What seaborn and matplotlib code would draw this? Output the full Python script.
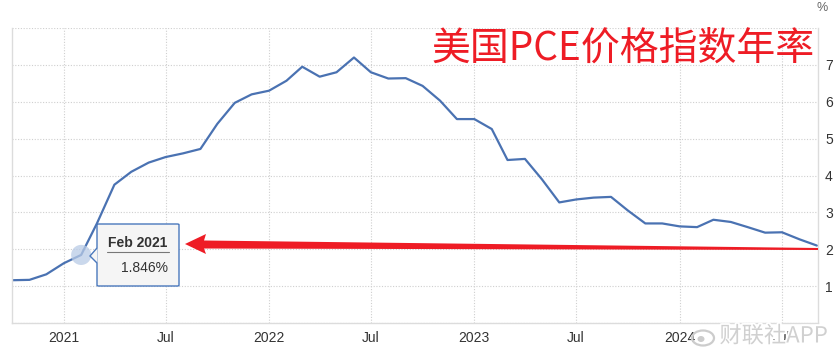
import matplotlib
matplotlib.use("Agg")
import matplotlib.pyplot as plt
import matplotlib.patheffects as pe
from matplotlib.patches import Polygon, FancyBboxPatch, Ellipse
import seaborn as sns
import pandas as pd

# ---- data ----
start_month = "2020-10-01"
values = [1.16, 1.17, 1.32,
          1.62, 1.846, 2.70, 3.75, 4.10, 4.35, 4.50, 4.60, 4.72, 5.40, 5.97, 6.20,
          6.30, 6.57, 6.95, 6.68, 6.80, 7.20, 6.80, 6.63, 6.64, 6.43, 6.03, 5.53,
          5.53, 5.26, 4.42, 4.45, 3.90, 3.27, 3.35, 3.40, 3.42, 3.05, 2.70, 2.70,
          2.62, 2.60, 2.80, 2.74, 2.60, 2.45, 2.46, 2.27, 2.10]
dates = pd.date_range(start_month, periods=len(values), freq="MS")
highlight_date = "2021-02-01"
highlight_value = 1.846
title_text = "美国PCE价格指数年率"
tooltip_date = "Feb 2021"
tooltip_value = "1.846%"
watermark = "财联社APP"
ytick_vals = [1, 2, 3, 4, 5, 6, 7]
xtick_dates = ["2021-01-01", "2021-07-01", "2022-01-01", "2022-07-01",
               "2023-01-01", "2023-07-01", "2024-01-01", "2024-07-01"]
xtick_labels = ["2021", "Jul", "2022", "Jul", "2023", "Jul", "2024", "Jul"]

df = pd.DataFrame({"date": dates, "value": values})

sns.set_style("white")
plt.rcParams["font.family"] = ["Liberation Sans", "Noto Sans CJK SC", "DejaVu Sans"]

W, H = 837, 357
fig = plt.figure(figsize=(W / 100, H / 100), dpi=100)
ax = fig.add_axes([12 / W, 1 - 323 / H, (818 - 12) / W, (323 - 28) / H])

sns.lineplot(data=df, x="date", y="value", ax=ax, color="#4a72b2", linewidth=1.6)

ax.set_xlim(pd.Timestamp("2020-10-01"), pd.Timestamp("2024-09-03"))
ax.set_ylim(0, 8)
ax.set_yticks(range(0, 9))
ax.set_yticklabels([str(v) if v in ytick_vals else "" for v in range(0, 9)])
ax.yaxis.tick_right()
ax.set_xticks([pd.Timestamp(d) for d in xtick_dates])
ax.set_xticklabels(xtick_labels)
ax.tick_params(axis="both", length=0, labelsize=10, colors="#333333")
ax.tick_params(axis="y", pad=5)
ax.tick_params(axis="x", pad=6)
ax.set_xlabel("")
ax.set_ylabel("")
ax.grid(True, color="#cfcfcf", linestyle=(0, (1, 1.5)), linewidth=0.8)
for side in ["left", "bottom", "right"]:
    ax.spines[side].set_visible(True)
    ax.spines[side].set_color("#dcdcdc")
    ax.spines[side].set_linewidth(1.0)
ax.spines["top"].set_visible(False)

# highlight marker
ax.scatter([pd.Timestamp(highlight_date)], [highlight_value], s=210,
           color="#b9cbe6", alpha=0.75, zorder=5, edgecolor="none")

def px(x, y):
    return (x / W, 1 - y / H)

T = fig.transFigure

# tooltip box with pointer
box = FancyBboxPatch(px(97, 286), (179 - 97) / W, (286 - 224) / H,
                     boxstyle="round,pad=0,rounding_size=0.002",
                     transform=T, facecolor="#f5f5f5", edgecolor="#4a78bc",
                     linewidth=1.0, zorder=10)
fig.patches.append(box)
ptr = Polygon([px(97.5, 248), px(90, 256), px(97.5, 263)], closed=True,
              transform=T, facecolor="#f5f5f5", edgecolor="none", zorder=11)
fig.patches.append(ptr)
ptr_edge = Polygon([px(97, 248), px(90, 256), px(97, 263)], closed=False,
                   transform=T, facecolor="none", edgecolor="#4a78bc",
                   linewidth=1.0, zorder=12)
fig.patches.append(ptr_edge)
fig.text(*px(138, 243), tooltip_date, ha="center", va="center", fontsize=10,
         fontweight="bold", color="#333333", zorder=13)
fig.lines.append(plt.Line2D([107 / W, 169 / W], [1 - 252 / H, 1 - 252 / H],
                            transform=T, color="#777777", linewidth=0.8, zorder=13))
fig.text(*px(168, 268), tooltip_value, ha="right", va="center", fontsize=10,
         color="#333333", zorder=13)

# red tapered arrow
arrow = Polygon([px(185, 244), px(206, 234), px(204, 240.5), px(818, 248),
                 px(818, 250), px(204, 248.5), px(206, 254)], closed=True,
                transform=T, facecolor="#ee1c25", edgecolor="none", zorder=9)
fig.patches.append(arrow)

# title
fig.text(*px(815, 50), title_text, ha="right", va="center", fontsize=28,
         color="#ee1c25", family=["Noto Sans CJK SC", "DejaVu Sans"])

# percent sign
fig.text(*px(822, 8), "%", ha="center", va="center", fontsize=9, color="#666666")

# watermark (logo approximation + text)
halo = [pe.withStroke(linewidth=2.5, foreground="white")]
logo = Ellipse(px(703, 338), 22 / W, 15 / H, transform=T, facecolor="none",
               edgecolor="#cccccc", linewidth=1.6, zorder=19)
fig.patches.append(logo)
logo_dot = Ellipse(px(701, 339), 7 / W, 6 / H, transform=T, facecolor="#cccccc",
                   edgecolor="none", zorder=19)
fig.patches.append(logo_dot)
fig.text(*px(828, 336), watermark, ha="right", va="center", fontsize=16,
         color="#d0d0d0", family=["Noto Sans CJK SC", "DejaVu Sans"], zorder=20,
         path_effects=halo)

fig.savefig("out.png", dpi=100)
